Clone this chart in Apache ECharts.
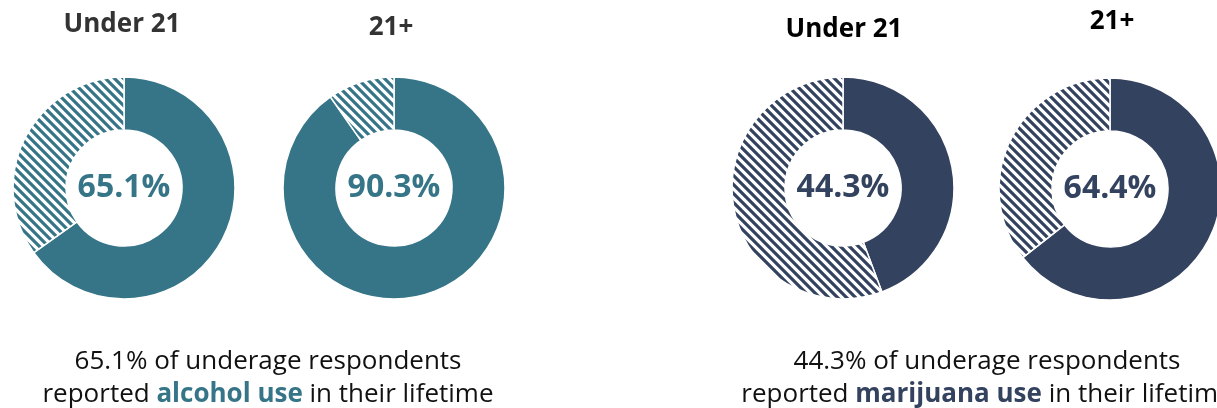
<!DOCTYPE html>
<html>
<head>
<meta charset="utf-8">
<script src="https://cdn.jsdelivr.net/npm/echarts@6/dist/echarts.min.js"></script>
<style>
  html, body { margin: 0; padding: 0; background: #fff; }
  #chart { width: 1217px; height: 408px; }
</style>
</head>
<body>
<div id="chart"></div>
<script>
// Lifetime use among respondents, by age group
const ageGroups = ['Under 21', '21+'];
const alcoholPct = [65.1, 90.3];
const marijuanaPct = [44.3, 64.4];
const substanceNames = ['alcohol use', 'marijuana use'];

const TEAL = '#367587';
const NAVY = '#33425e';
const FONT = '"Open Sans", "Liberation Sans", sans-serif';

// Diagonal hatch tile for the remainder of each ring
function hatch(color) {
  const s = 9;
  const c = document.createElement('canvas');
  c.width = s; c.height = s;
  const g = c.getContext('2d');
  g.fillStyle = '#fff';
  g.fillRect(0, 0, s, s);
  g.strokeStyle = color;
  g.lineWidth = 3.2;
  g.lineCap = 'square';
  for (const k of [-s, 0, s]) {
    g.beginPath();
    g.moveTo(k - 2, -2);
    g.lineTo(k + s + 2, s + 2);
    g.stroke();
  }
  return { image: c, repeat: 'repeat' };
}

function donut(center, pct, color) {
  return {
    type: 'pie',
    center: center,
    radius: [58, 111],
    startAngle: 90,
    clockwise: true,
    silent: true,
    animation: false,
    labelLine: { show: false },
    emphasis: { disabled: true },
    itemStyle: { borderColor: '#fff', borderWidth: 1.5 },
    data: [
      {
        value: pct,
        itemStyle: { color: color },
        label: {
          show: true,
          position: 'center',
          formatter: p => p.value.toFixed(1) + '%',
          fontFamily: FONT,
          fontWeight: 'bold',
          fontSize: 32,
          color: color
        }
      },
      {
        value: +(100 - pct).toFixed(1),
        itemStyle: { color: hatch(color) },
        label: { show: false }
      }
    ]
  };
}

function heading(text, x, y, color) {
  return {
    text: text,
    left: x,
    top: y,
    textAlign: 'center',
    padding: 0,
    textStyle: { fontFamily: FONT, fontWeight: 'bold', fontSize: 26, color: color }
  };
}

function caption(pct, name, x, color) {
  return {
    text: '{n|' + pct.toFixed(1) + '% of underage respondents}\n' +
          '{n|reported }{b|' + name + '}{n| in their lifetime}',
    left: x,
    top: 345,
    textAlign: 'center',
    padding: 0,
    textStyle: {
      fontWeight: 'normal',
      rich: {
        n: { fontFamily: FONT, fontSize: 26, fontWeight: 'normal', color: '#111', lineHeight: 33 },
        b: { fontFamily: FONT, fontSize: 26, fontWeight: 'bold', color: color, lineHeight: 33 }
      }
    }
  };
}

const chart = echarts.init(document.getElementById('chart'), null, { renderer: 'canvas' });
chart.setOption({
  backgroundColor: '#fff',
  animation: false,
  title: [
    heading(ageGroups[0], 122, 12, '#333'),
    heading(ageGroups[1], 391, 15, '#333'),
    heading(ageGroups[0], 844, 17, '#000'),
    heading(ageGroups[1], 1112, 9, '#000'),
    caption(alcoholPct[0], substanceNames[0], 268, TEAL),
    caption(marijuanaPct[0], substanceNames[1], 987, NAVY)
  ],
  series: [
    donut([124, 188], alcoholPct[0], TEAL),
    donut([394, 188], alcoholPct[1], TEAL),
    donut([843, 188], marijuanaPct[0], NAVY),
    donut([1110, 189], marijuanaPct[1], NAVY)
  ]
});
</script>
</body>
</html>
